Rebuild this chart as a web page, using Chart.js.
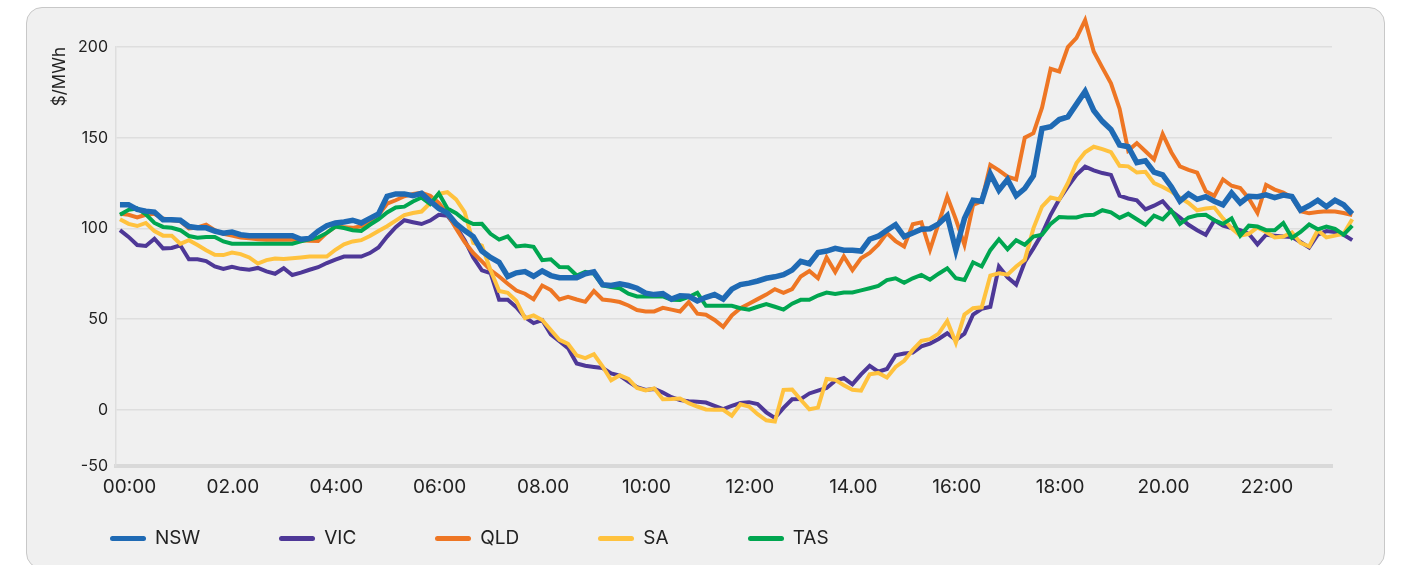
<!DOCTYPE html>
<html lang="en">
<head>
<meta charset="UTF-8" />
<title>Regional spot prices by time of day</title>
<style>
  body {
    margin: 0; padding: 0;
    background: #fff;
    font-family: Inter, 'Noto Sans', sans-serif;
    color: #222;
  }
  .card {
    position: absolute;
    left: 26px; top: 7px;
    width: 1357px; height: 560px;
    background: #f0f0f0;
    border: 1.5px solid #c8c8c8;
    border-radius: 16px;
  }
  #wrap {
    position: absolute;
    left: 0; top: 0;
    width: 1401px; height: 565px;
  }
  #legend {
    position: absolute;
    left: 110px; top: 527px;
    display: flex;
    gap: 79px;
    align-items: center;
  }
  .item { display: flex; align-items: center; gap: 9px; }
  .swatch { width: 36px; height: 5px; border-radius: 3px; }
  .item span.txt { font-size: 19px; line-height: 22px; color: #222; }
</style>
</head>
<body>
<div class="card"></div>
<div id="wrap"><canvas id="prices"></canvas></div>
<div id="legend"></div>

<script src="https://cdn.jsdelivr.net/npm/chart.js"></script>
<script>
  // minutes after midnight, one reading every 10 minutes
  const times = Array.from({ length: 144 }, (_, i) => i * 10);

  const nsw = [
    113, 113, 110.5, 109.5, 109, 104.7, 104.7, 104.5, 101, 100.3, 100.3, 98.5,
    97.3, 98, 96.5, 96, 96, 96, 96, 96, 96, 94, 94.5, 98.5,
    101.5, 103, 103.5, 104.5, 103, 105.5, 108, 117.7, 119, 119, 118, 119.3,
    115, 111, 108.4, 102.6, 98.8, 95.5, 87.5, 84, 81.3, 73.5, 75.5, 76.2,
    73.6, 76.5, 74, 72.8, 72.8, 72.8, 75, 76, 69, 68.5, 69.5, 68.5,
    67, 64.3, 63.5, 64, 61, 62.8, 62.6, 60, 62, 63.5, 61, 66.5,
    69, 69.8, 71, 72.5, 73.3, 74.5, 77, 81.8, 80.5, 86.7, 87.5, 89,
    88, 88, 87.5, 94, 95.7, 99, 102, 95.5, 97.5, 99.5, 99.8, 102.5,
    107, 88, 105.5, 115.5, 115, 130, 121, 127, 118, 122, 129, 155,
    156, 160, 161.5, 168.5, 175.5, 165, 159, 154.5, 146, 145, 136.3, 137.3,
    131, 129.5, 123, 115, 119, 116, 117.5, 115, 113, 119.5, 114, 117.7,
    117.5, 118.5, 117, 118.4, 117.6, 110, 112.5, 115.5, 112, 115.5, 113, 108
  ];
  const vic = [
    99, 95.3, 90.8, 90.3, 94.3, 89, 89.2, 90.7, 83, 83, 82, 79,
    77.7, 78.8, 77.7, 77.2, 78.2, 76.3, 75, 78, 74.3, 75.6, 77.2, 78.6,
    80.9, 82.8, 84.5, 84.5, 84.5, 86.4, 89.5, 95.5, 100.7, 104.5, 103.4, 102.4,
    104.3, 107.5, 107, 101, 93.5, 84, 76.9, 75.4, 60.6, 60.6, 56.5, 51,
    47.8, 49.4, 41.5, 37.8, 34, 25.5, 24.3, 23.6, 23, 20, 18.8, 15.5,
    12.4, 10.9, 11.5, 9.5, 6.9, 5.3, 4.7, 4.4, 4, 2.2, 0.4, 2.1,
    3.7, 4.2, 3.2, -1.4, -4.5, 1, 5.8, 5.9, 9, 10.6, 12, 16,
    17.5, 14, 19.5, 24.2, 21, 22.5, 30, 31, 31.5, 35, 36.5, 39,
    42.2, 38.5, 42, 52.5, 55.6, 56.8, 79, 73, 69, 81.5, 89, 97,
    107.5, 116, 123, 129.5, 134, 132, 130.5, 129.5, 118, 116.5, 115.5, 110.5,
    112.5, 115, 109.5, 106, 102, 99, 96.5, 104.5, 101.5, 100.2, 99, 97,
    91.2, 96.5, 96, 95.5, 95.3, 92.5, 89.5, 96.5, 98.5, 98, 96.5, 93.5
  ];
  const qld = [
    108, 107.5, 106, 107.5, 108, 105.5, 104.5, 104, 100, 100.5, 102, 99,
    97, 96, 95, 94.5, 94, 93.7, 93.7, 93.7, 93.7, 93.5, 93.2, 93,
    97.5, 101, 100.6, 100.3, 101.2, 103, 107.5, 113.6, 115.5, 117.7, 119, 119.6,
    118, 114, 108, 100, 92.5, 86.4, 81.8, 77, 73.5, 69.5, 65.7, 64,
    61, 68.5, 66, 60.8, 62.3, 60.8, 59.5, 65.5, 60.8, 60.2, 59.4, 57.5,
    55, 54.2, 54.2, 56.2, 55.2, 54.2, 59.3, 53, 52.4, 49.5, 45.7, 52,
    56, 58.5, 61, 63.5, 66.5, 64.5, 66.5, 73.5, 76.5, 72.5, 84, 76,
    84.5, 77, 83.5, 86.5, 91, 97.4, 93, 90, 102.3, 103.3, 88.2, 102.7,
    117.5, 105, 91, 113, 115, 135, 132, 128.5, 127, 150, 152.5, 166.5,
    188, 186.5, 200, 205, 214.8, 197.5, 188.6, 180, 166, 142.9, 147, 142.5,
    138, 152, 142, 134.2, 132.3, 130.7, 120.5, 118, 127, 123.5, 122.3, 116.5,
    108.5, 124, 121.4, 119.8, 117, 109.5, 108.3, 109, 109.5, 109.3, 108.5, 107.3
  ];
  const sa = [
    105, 102.5, 101.3, 103, 98.5, 96, 96, 91.5, 93.5, 90.8, 88, 85.5,
    85.3, 86.7, 85.8, 84, 80.6, 82.5, 83.4, 83.1, 83.5, 84, 84.5, 84.5,
    84.5, 88.2, 91.2, 92.8, 93.5, 95.8, 98.6, 101.2, 104.3, 107.3, 108.5, 109.3,
    114, 119, 120, 116, 109, 92, 90.5, 77, 65.5, 64.5, 60, 50.5,
    52, 49.5, 44, 38.5, 36.3, 30, 28.5, 30.6, 24, 16.3, 19, 17,
    12, 10.7, 11.8, 5.8, 5.9, 6.2, 3.6, 1.8, 0.2, 0, 0, -3.3,
    3, 1.8, -2.4, -5.8, -6.5, 11, 11.2, 5.5, 0.3, 1.2, 17, 16.5,
    13.5, 11, 10.5, 19.5, 20.3, 17.8, 23.6, 27, 33, 38, 38.9, 42,
    49, 37, 52.5, 56, 56.5, 74, 75.2, 74.5, 79, 82.7, 100, 112,
    117, 116, 125, 136, 142, 145, 143.7, 142, 134.5, 134.2, 130.8, 131.2,
    125, 122.8, 120.3, 117, 114, 110, 111, 111.5, 105.5, 100, 96, 97,
    100.5, 98, 95, 95.5, 97.8, 92, 90, 99, 95, 96, 97, 105
  ];
  const tas = [
    107.5, 110.2, 111, 107.8, 103, 100.8, 100.3, 99, 95.8, 94.9, 95.3, 95.3,
    92.8, 91.5, 91.5, 91.5, 91.5, 91.5, 91.5, 91.5, 91.5, 92.8, 94, 95,
    97.5, 101, 100.2, 99, 98.6, 102, 105, 108.8, 111.5, 112, 114.8, 117,
    113.5, 119.3, 111, 108.4, 104.6, 102.4, 102.5, 97, 93.8, 95.6, 90, 90.5,
    89.8, 82.5, 83, 78.7, 78.6, 74, 76, 75, 68.5, 67.7, 67, 64,
    62.5, 62.5, 62.5, 62.5, 60.7, 60.5, 62.2, 64.5, 57.3, 57.3, 57.3, 57.3,
    56, 55.2, 56.8, 58.3, 56.8, 55.2, 58.5, 60.6, 60.6, 63, 64.6, 63.8,
    64.7, 64.7, 65.8, 67, 68.3, 71.5, 72.5, 70, 72.5, 74.3, 71.7, 75,
    78, 72.5, 71.5, 81.3, 79, 88, 94, 88.5, 93.5, 91, 95.5, 96.5,
    102.5, 106.3, 106, 106, 107.3, 107.5, 110, 108.8, 105.8, 108, 105, 102,
    107, 105, 109.8, 102.5, 106, 107.2, 107.5, 104.5, 102.5, 105.5, 96, 101.5,
    101, 99, 99, 103, 94.8, 98, 102.2, 99.5, 101, 99.8, 96.5, 101.5
  ];

  const xTickTimes = [0, 120, 240, 360, 480, 600, 720, 840, 960, 1080, 1200, 1320];
  const xTickLabels = ['00:00', '02.00', '04:00', '06:00', '08.00', '10:00', '12:00', '14.00', '16:00', '18:00', '20.00', '22:00'];
  const yTicks = [-50, 0, 50, 100, 150, 200];

  // the axis labels sit a little to the right of the readings they name
  const LABEL_SHIFT = 11;
  const X_MIN = -4.6, X_END = 1406.5;   // gridlines stop short of the last readings
  const Y_MIN = -31, Y_MAX = 200;

  const series = [
    { label: 'NSW', data: nsw, color: '#1f6ab4', width: 5.5, order: 0 },
    { label: 'VIC', data: vic, color: '#4e3897', width: 4, order: 4 },
    { label: 'QLD', data: qld, color: '#ee7624', width: 4, order: 3 },
    { label: 'SA',  data: sa,  color: '#ffc23e', width: 4, order: 2 },
    { label: 'TAS', data: tas, color: '#00a650', width: 4, order: 1 }
  ];

  Chart.defaults.font.family = "Inter, 'Noto Sans', sans-serif";
  Chart.defaults.color = '#222';

  const chart = new Chart(document.getElementById('prices'), {
    type: 'line',
    data: {
      labels: times,
      datasets: series.map(s => ({
        label: s.label,
        data: s.data,
        borderColor: s.color,
        backgroundColor: s.color,
        borderWidth: s.width,
        pointRadius: 0,
        tension: 0,
        clip: false,
        order: s.order
      }))
    },
    options: {
      responsive: true,
      maintainAspectRatio: false,
      animation: false,
      layout: { padding: { left: 40, right: 69, top: 47, bottom: 60 } },
      plugins: { legend: { display: false }, tooltip: { enabled: false } },
      scales: {
        x: {
          type: 'linear',
          bounds: 'data',
          min: X_MIN,
          afterDataLimits: s => { s.max = X_END; },
          afterBuildTicks: s => { s.ticks = xTickTimes.map(t => ({ value: t + LABEL_SHIFT })); },
          afterFit: s => { s.height = 39; },
          grid: { display: false, drawTicks: false },
          border: { display: true, color: '#d9d9d9', width: 4 },
          ticks: {
            autoSkip: false, maxRotation: 0, padding: 10,
            font: { size: 19 }, color: '#222',
            callback: (v, i) => xTickLabels[i]
          }
        },
        y: {
          bounds: 'data',
          min: Y_MIN,
          max: Y_MAX,
          afterBuildTicks: s => { s.ticks = yTicks.map(v => ({ value: Math.max(v, Y_MIN) })); },
          afterFit: s => { s.width = 76; },
          grid: { color: '#dedede', lineWidth: 1.5, drawTicks: false },
          border: { display: true, color: '#dedede', width: 1.5 },
          ticks: {
            padding: 8, font: { size: 16 }, color: '#222',
            callback: (v, i) => yTicks[i]
          },
          title: {
            display: true, text: '$/MWh', align: 'end',
            font: { size: 17 }, color: '#222', padding: { top: 10 }
          }
        }
      }
    }
  });

  // legend in page order, built from the datasets
  const legend = document.getElementById('legend');
  chart.data.datasets.forEach(ds => {
    const item = document.createElement('div');
    item.className = 'item';
    item.innerHTML = '<span class="swatch" style="background:' + ds.borderColor + '"></span><span class="txt">' + ds.label + '</span>';
    legend.appendChild(item);
  });
</script>
</body>
</html>
